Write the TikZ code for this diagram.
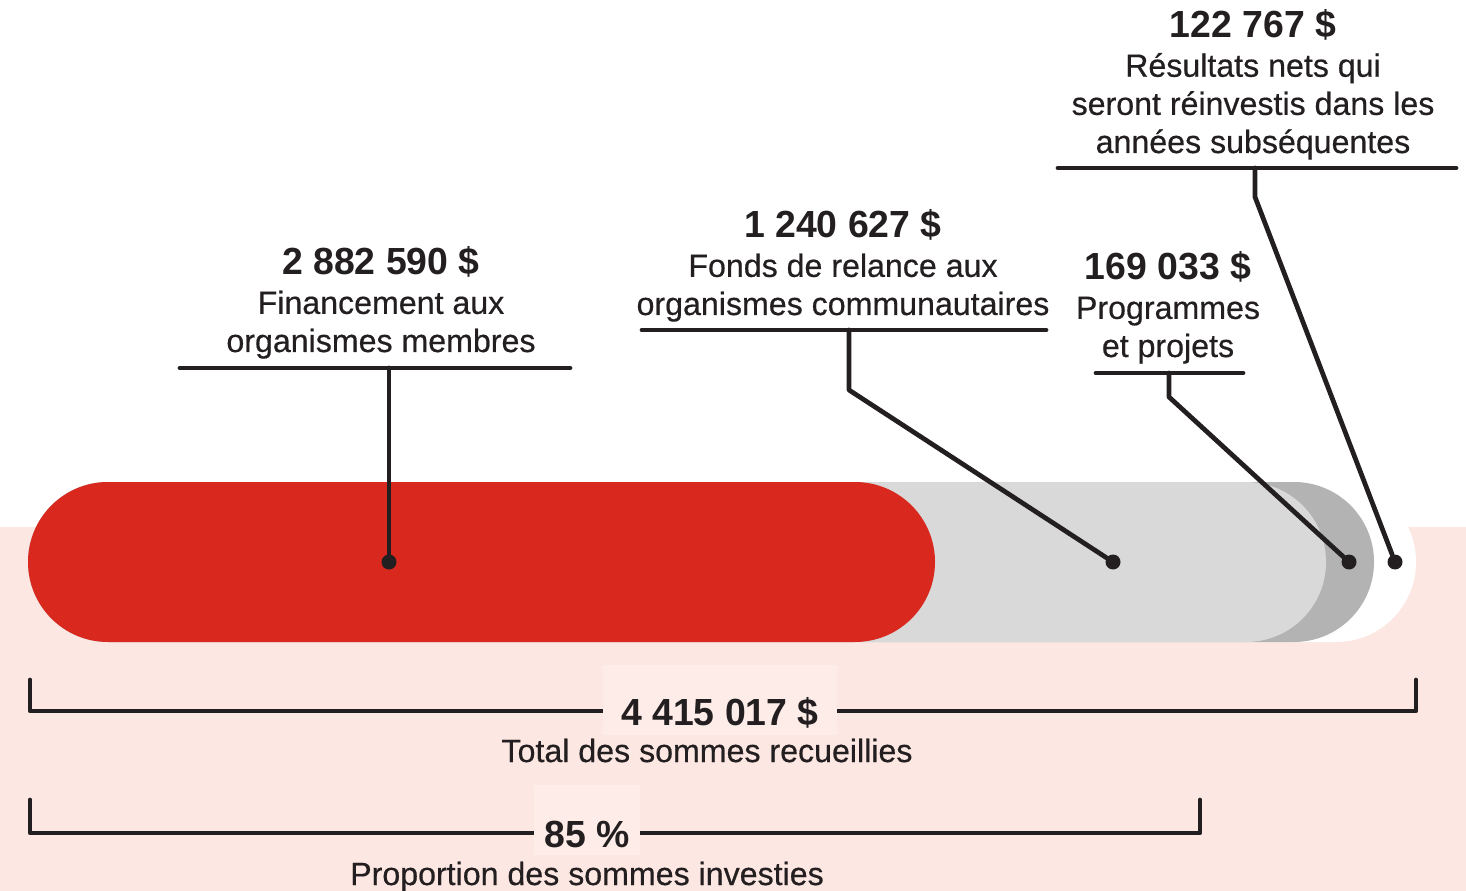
\documentclass[tikz,border=0pt]{standalone}
\usepackage{fontspec}
\setmainfont{Liberation Sans}
\newfontfamily\grasfont{Liberation Sans}[FakeStretch=0.99]
\newfontfamily\libfont{Liberation Sans}[FakeBold=0.5]
\definecolor{texte}{HTML}{231F20}
\definecolor{fond}{HTML}{FDE7E2}
\definecolor{boite}{HTML}{FEECE8}
\definecolor{rouge}{HTML}{D9291E}
\definecolor{grisclair}{HTML}{D9D9D9}
\definecolor{grisfonce}{HTML}{B3B3B3}
\begin{document}
\begin{tikzpicture}[x=0.02cm,y=-0.02cm]
\tikzset{point/.style={circle, fill=texte, inner sep=0pt, minimum size=0.3cm}}
\tikzset{trait/.style={line width=2.7pt, draw=texte, line cap=round, line join=round}}
\tikzset{montant/.style={font=\grasfont\bfseries\fontsize{21.5}{22}\selectfont, text=texte, anchor=base, inner sep=0pt}}
\tikzset{libelle/.style={font=\libfont\fontsize{18.3}{21.7}\selectfont, text=texte, align=center, anchor=base, inner sep=0pt}}
\useasboundingbox (0,0) rectangle (1466,891);
\fill[fond] (0,527) rectangle (1466,891);
% barres
\fill[white, rounded corners=1.6cm] (28,482) rectangle (1416,642);
\fill[grisfonce, rounded corners=1.6cm] (28,482) rectangle (1374,642);
\fill[grisclair, rounded corners=1.6cm] (28,482) rectangle (1326,642);
\fill[rouge, rounded corners=1.6cm] (28,482) rectangle (935,642);
\node[point] (P1) at (389,562) {};
\node[point] (P2) at (1113,562) {};
\node[point] (P3) at (1349,562) {};
\node[point] (P4) at (1395,562) {};
% etiquettes
\node[montant] (M1) at (381,275) {2 882 590 \$};
\node[libelle] (L1) at (381,352) {Financement aux\\organismes membres};
\node[montant] (M2) at (843,238) {1 240 627 \$};
\node[libelle] (L2) at (843,315) {Fonds de relance aux\\organismes communautaires};
\node[montant] (M3) at (1168,280) {169 033 \$};
\node[libelle] (L3) at (1168,357) {Programmes\\et projets};
\node[montant] (M4) at (1253,38) {122 767 \$};
\node[libelle] (L4) at (1253,153) {Résultats nets qui\\seront réinvestis dans les\\années subséquentes};
% traits
\coordinate (A1) at (180,368); \coordinate (B1) at (570,368); \coordinate (C1) at (389,368);
\coordinate (A2) at (642,330); \coordinate (B2) at (1046,330); \coordinate (C2) at (849,330); \coordinate (E2) at (849,390);
\coordinate (A3) at (1096,373); \coordinate (B3) at (1243,373); \coordinate (C3) at (1169,373); \coordinate (E3) at (1169,397);
\coordinate (A4) at (1058,168); \coordinate (B4) at (1456,168); \coordinate (C4) at (1255,168); \coordinate (E4) at (1255,197);
\draw[trait] (A1) -- (B1);
\draw[trait] (C1) -- (P1);
\draw[trait] (A2) -- (B2);
\draw[trait] (C2) -- (E2) -- (P2);
\draw[trait] (A3) -- (B3);
\draw[trait] (C3) -- (E3) -- (P3);
\draw[trait] (A4) -- (B4);
\draw[trait] (C4) -- (E4) -- (P4);
% accolades du bas
\coordinate (T1g) at (30,680); \coordinate (S1g) at (30,711);
\coordinate (S1d) at (1416,711); \coordinate (T1d) at (1416,680);
\draw[trait] (T1g) -- (S1g) -- (S1d) -- (T1d);
\node[fill=boite, minimum width=4.68cm, minimum height=1.4cm, inner sep=0pt] (K1) at (720,700) {};
\node[montant] (M5) at (720,725) {4 415 017 \$};
\node[libelle] (L5) at (707,762) {Total des sommes recueillies};
\coordinate (T2g) at (30,800); \coordinate (S2g) at (30,833);
\coordinate (S2d) at (1200,833); \coordinate (T2d) at (1200,800);
\draw[trait] (T2g) -- (S2g) -- (S2d) -- (T2d);
\node[fill=boite, minimum width=2.14cm, minimum height=1.4cm, inner sep=0pt] (K2) at (587,820) {};
\node[montant] (M6) at (587,847) {85 \%};
\node[libelle] (L6) at (587,885) {Proportion des sommes investies};
\end{tikzpicture}
\end{document}
